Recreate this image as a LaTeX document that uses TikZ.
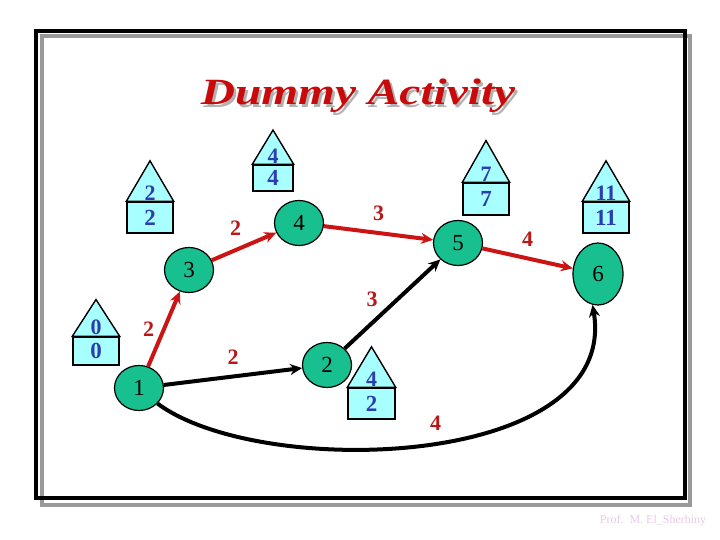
\documentclass[tikz,border=0pt]{standalone}
\usepackage{fontspec}
\setmainfont{Liberation Serif}
\usetikzlibrary{arrows.meta,positioning,shapes.geometric,calc}

\definecolor{evgreen}{HTML}{17C08E}
\definecolor{boxcyan}{HTML}{A8FFFF}
\definecolor{numblue}{HTML}{2B3DB0}
\definecolor{lblred}{HTML}{B81818}
\definecolor{arrred}{HTML}{CC1414}
\definecolor{titlered}{HTML}{C80A0A}
\definecolor{footpink}{HTML}{E4CBE6}

% event time box: rectangle with a roof, top number in the roof
\newcommand{\timebox}[5][]{%
  \node[tbox,#1] (#2) at (#3) {#5};
  \draw[roof] (#2.north west) -- ($(#2.north)!-1.25!(#2.south)$) -- (#2.north east) -- cycle;
  \node[tnum, above=1pt] (#2t) at (#2.north) {#4};
}

\begin{document}
\begin{tikzpicture}[x=1pt, y=-1pt,
  event/.style={ellipse, draw=black, line width=1.2pt, fill=evgreen, inner sep=0pt,
    minimum width=49pt, minimum height=45pt, font=\fontsize{23}{23}\selectfont},
  tbox/.style={draw=black, line width=1.4pt, fill=boxcyan, inner sep=0pt,
    minimum width=46pt, minimum height=31pt, text=numblue, font=\bfseries\fontsize{23}{23}\selectfont},
  roof/.style={draw=black, line width=1.4pt, fill=boxcyan},
  tnum/.style={inner sep=0pt, text=numblue, font=\bfseries\fontsize{22}{22}\selectfont},
  lbl/.style={text=lblred, font=\bfseries\fontsize{22}{22}\selectfont, inner sep=1pt},
  redarr/.style={draw=arrred, line width=4pt, -{Stealth[length=12pt,width=11pt]}},
  blkarr/.style={draw=black, line width=4pt, -{Stealth[length=12pt,width=11pt]}}]
\useasboundingbox (0,0) rectangle (720,540);
% frame with shadow
\draw[line width=4pt, black!40] (42,36.5) rectangle (690,505);
\draw[line width=4pt, black] (35.5,31.5) rectangle (684.5,498);
% title
\node[text=black!30, xscale=1.28, font=\bfseries\itshape\fontsize{37}{37}\selectfont, anchor=base]
  (shadow) at (360.5,107.5) {Dummy Activity};
\node[text=titlered, xscale=1.28, font=\bfseries\itshape\fontsize{37}{37}\selectfont, anchor=base]
  (title) at (358,105) {Dummy Activity};
% events
\node[event] (n1) at (139,388) {1};
\node[event] (n3) at (189,270) {3};
\node[event] (n4) at (299,223) {4};
\node[event] (n2) at (327,365) {2};
\node[event] (n5) at (458,243) {5};
\node[event, minimum width=50pt, minimum height=62pt] (n6) at (598,274) {6};
% time boxes
\timebox[minimum height=28pt]{b1}{96,351}{0}{0}
\timebox{b3}{150,217.5}{2}{2}
\timebox[minimum width=40pt, minimum height=26pt]{b4}{273,178}{4}{4}
\timebox[minimum height=32pt]{b5}{486,199}{7}{7}
\timebox{b6}{606,217.5}{11}{11}
\timebox[minimum width=47pt]{b2}{371.5,403.5}{4}{2}
% activities
\draw[redarr] (n1) -- node[lbl, left=7pt] {2} (n3);
\draw[redarr] (n3) -- node[lbl, above left=8pt and 0pt] {2} (n4);
\draw[redarr] (n4) -- node[lbl, above=9pt] {3} (n5);
\draw[redarr] (n5) -- node[lbl, above=9pt] {4} (n6);
\draw[blkarr] (n1) -- node[lbl, above=9pt] {2} (n2);
\draw[blkarr] (n2) -- node[lbl, left=12pt, yshift=5pt] {3} (n5);
\draw[blkarr] (n1.-40) .. controls (260,480) and (620,470) .. node[lbl, pos=0.52, above=10pt] {4} (n6.-100);
% footer
\node[text=footpink, font=\fontsize{12}{12}\selectfont] (foot) at (653,521) {Prof.\ \ M. El\_Sherbiny};
\end{tikzpicture}
\end{document}
